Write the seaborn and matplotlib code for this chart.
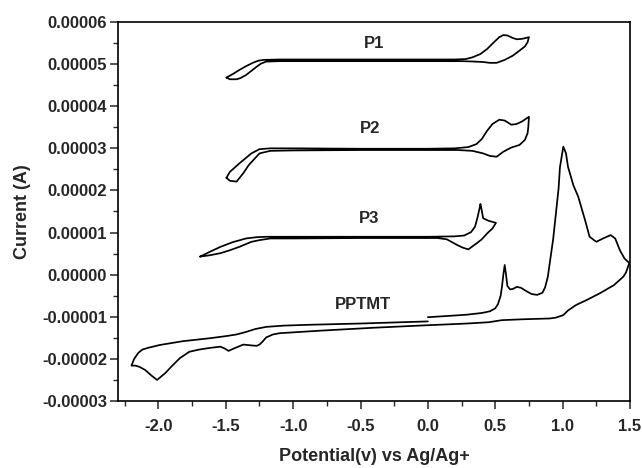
import numpy as np
import pandas as pd
import matplotlib
matplotlib.use("Agg")
import matplotlib.pyplot as plt
from matplotlib.ticker import MultipleLocator, FormatStrFormatter
import seaborn as sns

# Cyclic voltammograms: potential (V vs Ag/Ag+) and current in units of 1e-5 A
p1_v = [-1.495, -1.445, -1.40, -1.35, -1.30, -1.26, -1.22, -1.10, -0.50, 0.00, 0.20, 0.28,
        0.33, 0.39, 0.44, 0.49, 0.53, 0.56, 0.59, 0.63, 0.66, 0.70, 0.75,
        0.74, 0.72, 0.68, 0.63, 0.57, 0.51, 0.46, 0.41, 0.35, 0.26, 0.00, -0.50, -1.10,
        -1.20, -1.24, -1.27, -1.31, -1.35, -1.39, -1.42, -1.47, -1.495]
p1_i = [4.68, 4.77, 4.86, 4.95, 5.03, 5.08, 5.10, 5.11, 5.11, 5.11, 5.11, 5.12,
        5.16, 5.24, 5.36, 5.52, 5.64, 5.69, 5.68, 5.62, 5.59, 5.60, 5.64,
        5.52, 5.42, 5.32, 5.20, 5.10, 5.03, 5.03, 5.05, 5.06, 5.07, 5.07, 5.07, 5.07,
        5.06, 5.01, 4.94, 4.84, 4.74, 4.67, 4.64, 4.64, 4.68]

p2_v = [-1.495, -1.47, -1.40, -1.31, -1.25, -1.17, -1.00, -0.50, 0.00, 0.20, 0.30, 0.36,
        0.40, 0.44, 0.48, 0.53, 0.57, 0.62, 0.66, 0.70, 0.75,
        0.745, 0.74, 0.72, 0.68, 0.62, 0.56, 0.51, 0.46, 0.41, 0.33, 0.22, 0.00, -0.50, -1.00,
        -1.17, -1.25, -1.33, -1.37, -1.40, -1.42, -1.47, -1.495]
p2_i = [2.30, 2.44, 2.64, 2.88, 2.98, 3.00, 3.00, 2.99, 2.99, 3.00, 3.03, 3.10,
        3.22, 3.42, 3.58, 3.68, 3.66, 3.56, 3.58, 3.64, 3.75,
        3.50, 3.36, 3.20, 3.08, 3.02, 2.92, 2.80, 2.82, 2.88, 2.94, 2.96, 2.96, 2.96, 2.95,
        2.94, 2.88, 2.60, 2.41, 2.29, 2.21, 2.23, 2.30]

p3_v = [-1.69, -1.62, -1.54, -1.45, -1.35, -1.27, -1.20, -1.00, -0.50, 0.00, 0.20, 0.27,
        0.32, 0.35, 0.37, 0.385, 0.39, 0.40, 0.41, 0.45, 0.505,
        0.48, 0.44, 0.40, 0.36, 0.30, 0.26, 0.22, 0.14, 0.07, 0.00, -0.50, -1.00,
        -1.17, -1.25, -1.31, -1.40, -1.47, -1.54, -1.62, -1.69]
p3_i = [0.43, 0.54, 0.66, 0.77, 0.86, 0.89, 0.90, 0.90, 0.90, 0.90, 0.91, 0.93,
        1.01, 1.14, 1.38, 1.60, 1.68, 1.52, 1.34, 1.28, 1.23,
        1.10, 0.98, 0.84, 0.74, 0.60, 0.64, 0.70, 0.84, 0.87, 0.87, 0.87, 0.86,
        0.86, 0.82, 0.78, 0.66, 0.58, 0.51, 0.46, 0.43]

# PPTMT sweep: anodic 0 -> 1.5 V, cathodic 1.5 -> -2.2 V, return -2.2 -> 0 V
pptmt_v = [0.00, 0.15, 0.29, 0.40, 0.46, 0.50, 0.52, 0.54, 0.55, 0.56, 0.57, 0.58, 0.59,
           0.61, 0.63, 0.66, 0.69, 0.73, 0.77, 0.81, 0.85, 0.87, 0.89, 0.91, 0.93, 0.95,
           0.97, 0.98, 1.005, 1.025, 1.04, 1.08, 1.116, 1.166, 1.20, 1.25, 1.30, 1.356,
           1.39, 1.425, 1.46, 1.495,
           1.47, 1.45, 1.38, 1.277, 1.18, 1.10, 1.04, 1.005, 0.95, 0.906, 0.70, 0.55,
           0.45, 0.29, 0.15, 0.00, -0.40, -0.80, -1.00, -1.10, -1.15, -1.20, -1.23, -1.25,
           -1.27, -1.31, -1.37, -1.43, -1.48, -1.51, -1.54, -1.62, -1.70, -1.77, -1.84,
           -1.90, -1.95, -2.01, -2.05, -2.10, -2.14, -2.17, -2.20,
           -2.18, -2.15, -2.12, -2.08, -1.99, -1.82, -1.62, -1.50, -1.42, -1.35, -1.28,
           -1.20, -1.07, -0.88, -0.50, 0.00]
pptmt_i = [-1.01, -0.98, -0.95, -0.91, -0.87, -0.80, -0.70, -0.50, -0.28, 0.00, 0.23, 0.00, -0.27,
           -0.35, -0.34, -0.29, -0.31, -0.39, -0.46, -0.48, -0.43, -0.30, -0.05, 0.40, 0.85, 1.45,
           2.05, 2.55, 3.04, 2.88, 2.56, 2.12, 1.85, 1.30, 0.90, 0.78, 0.86, 0.94,
           0.86, 0.58, 0.38, 0.28,
           0.05, -0.05, -0.25, -0.44, -0.60, -0.72, -0.85, -0.96, -1.02, -1.04, -1.06, -1.08,
           -1.13, -1.16, -1.18, -1.20, -1.26, -1.33, -1.37, -1.39, -1.42, -1.49, -1.60, -1.66,
           -1.69, -1.68, -1.66, -1.74, -1.81, -1.75, -1.71, -1.74, -1.78, -1.83, -1.98,
           -2.17, -2.34, -2.50, -2.40, -2.26, -2.19, -2.16, -2.16,
           -2.00, -1.86, -1.78, -1.74, -1.67, -1.58, -1.51, -1.46, -1.42, -1.36, -1.29,
           -1.24, -1.21, -1.19, -1.16, -1.11]

curves = {"P1": (p1_v, p1_i), "P2": (p2_v, p2_i), "P3": (p3_v, p3_i), "PPTMT": (pptmt_v, pptmt_i)}
label_pos = {"P1": (-0.40, 5.50), "P2": (-0.43, 3.46), "P3": (-0.44, 1.34), "PPTMT": (-0.48, -0.72)}

frames = []
for name, (v, i) in curves.items():
    frames.append(pd.DataFrame({"potential": v, "current": np.asarray(i) * 1e-5,
                                "curve": name, "step": np.arange(len(v))}))
df = pd.concat(frames, ignore_index=True)

sns.set_style("ticks")
plt.rcParams["font.family"] = ["Liberation Sans", "DejaVu Sans"]
plt.rcParams["font.weight"] = "bold"
plt.rcParams["axes.unicode_minus"] = False

fig = plt.figure(figsize=(6.42, 4.68), dpi=100)
ax = fig.add_axes([118 / 642, 1 - 401 / 468, (630 - 118) / 642, (401 - 22) / 468])

sns.lineplot(data=df, x="potential", y="current", units="curve", estimator=None,
             sort=False, color="black", linewidth=1.25, ax=ax, legend=False)

for name, (x, y) in label_pos.items():
    ax.text(x, y * 1e-5, name, ha="center", va="center", fontsize=12, fontweight="bold")

ax.set_xlim(-2.3, 1.5)
ax.set_ylim(-3e-5, 6e-5)
ax.xaxis.set_major_locator(MultipleLocator(0.5))
ax.xaxis.set_minor_locator(MultipleLocator(0.25))
ax.yaxis.set_major_locator(MultipleLocator(1e-5))
ax.yaxis.set_minor_locator(MultipleLocator(0.5e-5))
ax.xaxis.set_major_formatter(FormatStrFormatter("%.1f"))
ax.yaxis.set_major_formatter(FormatStrFormatter("%.5f"))

ax.tick_params(which="major", direction="out", length=6, width=1.1, labelsize=12)
ax.tick_params(which="minor", direction="out", length=3.5, width=1.0)
ax.tick_params(axis="x", which="major", pad=7)
ax.tick_params(axis="y", which="major", pad=2)
for lab in ax.get_xticklabels() + ax.get_yticklabels():
    lab.set_fontweight("bold")
for sp in ax.spines.values():
    sp.set_visible(True)
    sp.set_linewidth(1.2)
    sp.set_color("black")

ax.set_xlabel("Potential(v) vs Ag/Ag+", fontsize=13, fontweight="bold", labelpad=10)
ax.set_ylabel("Current (A)", fontsize=13, fontweight="bold", labelpad=8)

fig.savefig("out.png", dpi=100)
